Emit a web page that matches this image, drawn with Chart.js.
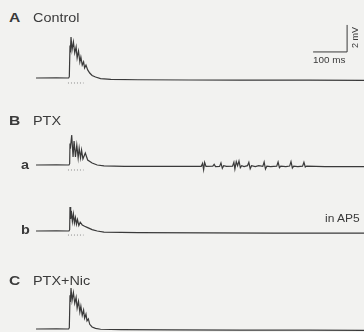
<!DOCTYPE html>
<html><head><meta charset="utf-8">
<script src="https://cdn.jsdelivr.net/npm/chart.js@4"></script>
<style>
html,body{margin:0;padding:0;background:#f2f2f0;}
#wrap{position:relative;width:364px;height:332px;overflow:hidden;background:#f2f2f0;font-family:"Liberation Sans",Arial,sans-serif;color:#3a3a3a;}
canvas{position:absolute;}
.t{position:absolute;white-space:nowrap;transform-origin:0 0;line-height:1;}
</style></head><body>
<div id="wrap">
<canvas id="cA" width="328" height="80" style="left:36px;top:20px"></canvas>
<canvas id="cBa" width="328" height="55" style="left:36px;top:125px"></canvas>
<canvas id="cBb" width="328" height="45" style="left:36px;top:195px"></canvas>
<canvas id="cC" width="328" height="57" style="left:36px;top:275px"></canvas>
<div class="t" style="left:9px;top:11px;font-size:13px;font-weight:bold;transform:scaleX(1.2)">A</div>
<div class="t" style="left:33px;top:12px;font-size:12px;transform:scaleX(1.2)">Control</div>
<div class="t" style="left:9px;top:114px;font-size:13px;font-weight:bold;transform:scaleX(1.2)">B</div>
<div class="t" style="left:33px;top:115px;font-size:12px;transform:scaleX(1.2)">PTX</div>
<div class="t" style="left:21px;top:159px;font-size:12px;font-weight:bold;transform:scaleX(1.2)">a</div>
<div class="t" style="left:21px;top:224px;font-size:12px;font-weight:bold;transform:scaleX(1.2)">b</div>
<div class="t" style="left:325px;top:214px;font-size:10px;transform:scaleX(1.2)">in AP5</div>
<div class="t" style="left:9px;top:274px;font-size:13px;font-weight:bold;transform:scaleX(1.2)">C</div>
<div class="t" style="left:33px;top:275px;font-size:12px;transform:scaleX(1.2)">PTX+Nic</div>
<div class="t" style="left:313px;top:56px;font-size:9px;transform:scaleX(1.1)">100 ms</div>
<div class="t" style="left:351px;top:48px;font-size:9px;transform:rotate(-90deg)">2 mV</div>
</div>
<script>
// time in ms, potential in mV relative to each trace's resting level
const traceATime = [0, 60, 96, 98, 100, 101, 103, 106, 110, 114, 118, 121, 125, 129, 132, 136, 140, 143, 147, 152, 158, 165, 175, 190, 220, 300, 450, 600, 800, 965];
const traceAmV   = [0, 0.02, 0, 0.1, 2.4, 1.9, 3.04, 2.07, 2.67, 1.85, 2.3, 1.48, 2.0, 1.19, 1.56, 0.96, 1.19, 0.74, 0.96, 0.6, 0.37, 0.19, 0.07, -0.04, -0.1, -0.13, -0.15, -0.16, -0.15, -0.17];

const traceBaTime = [0, 60, 97, 99, 100, 101, 105, 109, 112, 116, 120, 124, 127, 131, 134, 138, 145, 152, 165, 180, 200, 260, 350, 486, 490, 493, 496, 500, 520, 524, 528, 540, 544, 548, 552, 560, 578, 582, 585, 589, 593, 597, 601, 605, 612, 622, 626, 630, 634, 645, 655, 667, 671, 675, 679, 690, 708, 712, 716, 720, 735, 746, 750, 754, 758, 770, 784, 788, 792, 796, 850, 965];
const traceBamV   = [0, 0.02, 0, 0.1, 1.6, 1.2, 2.22, 0.59, 1.78, 0.59, 1.48, 0.52, 1.26, 0.52, 1.11, 0.44, 0.89, 0.37, 0.15, 0, -0.07, -0.1, -0.1, -0.1, 0.12, -0.35, 0.2, -0.1, -0.08, 0.05, -0.12, -0.1, 0.15, -0.25, -0.05, -0.1, -0.08, 0.2, -0.3, 0.25, -0.05, 0.3, -0.2, -0.05, -0.12, -0.05, 0.2, -0.28, -0.05, -0.12, -0.05, -0.1, 0.22, -0.3, -0.08, -0.12, -0.08, 0.22, -0.2, -0.08, -0.12, -0.08, 0.25, -0.22, -0.08, -0.12, -0.08, 0.2, -0.15, -0.08, -0.12, -0.12];

const traceBbTime = [0, 60, 97, 99, 100, 102, 104, 107, 110, 113, 116, 119, 122, 126, 130, 136, 143, 152, 165, 180, 200, 300, 500, 700, 965];
const traceBbmV   = [0, 0.02, 0, 0.1, 1.78, 0.9, 1.5, 0.7, 1.25, 0.6, 1.0, 0.5, 0.85, 0.4, 0.65, 0.45, 0.35, 0.25, 0.1, 0, -0.08, -0.12, -0.14, -0.15, -0.15];

const traceCTime = [0, 60, 96, 98, 100, 101, 103, 106, 110, 114, 118, 121, 125, 129, 132, 136, 140, 143, 147, 150, 154, 158, 165, 175, 190, 250, 400, 600, 800, 965];
const traceCmV   = [0, 0.02, 0, 0.1, 2.5, 2.0, 3.04, 2.1, 2.7, 1.9, 2.35, 1.55, 2.05, 1.25, 1.7, 1.0, 1.4, 0.8, 1.1, 0.6, 0.75, 0.35, 0.15, 0.05, -0.02, -0.05, -0.07, -0.08, -0.08, -0.1];

// stimulus markers (dotted) under bursts
const stimTime = [94, 140];
const stimAmV = [-0.37, -0.37];
const stimBamV = [-0.37, -0.37];
const stimBbmV = [-0.3, -0.3];

// scale bar: 100 ms x 2 mV
const scaleBarTime = [815, 915, 915];
const scaleBarmV   = [1.93, 1.93, 3.93];

const PX_PER_MV = 13.5;
const PX_PER_MS = 0.34;
const zip = (xs, ys) => xs.map((x, i) => ({x: x, y: ys[i]}));

function line(xs, ys, extra) {
  return Object.assign({data: zip(xs, ys), borderColor: '#3a3a3a', borderWidth: 1.2, pointRadius: 0, tension: 0, clip: false, fill: false}, extra || {});
}
function dotted(xs, ys) {
  return line(xs, ys, {borderColor: '#8a8a8a', borderWidth: 1, borderDash: [1, 2]});
}
function makeChart(id, top, height, basePx, datasets) {
  const max = (basePx - top) / PX_PER_MV;
  const min = max - height / PX_PER_MV;
  new Chart(document.getElementById(id), {
    type: 'line',
    data: {datasets: datasets},
    options: {
      responsive: false, animation: false, devicePixelRatio: 1, events: [],
      layout: {padding: 0},
      plugins: {legend: {display: false}, tooltip: {enabled: false}},
      scales: {
        x: {type: 'linear', display: false, min: 0, max: 328 / PX_PER_MS},
        y: {type: 'linear', display: false, min: min, max: max}
      }
    }
  });
}
makeChart('cA', 20, 80, 78, [line(traceATime, traceAmV), dotted(stimTime, stimAmV), line(scaleBarTime, scaleBarmV, {borderWidth: 1})]);
makeChart('cBa', 125, 55, 165, [line(traceBaTime, traceBamV), dotted(stimTime, stimBamV)]);
makeChart('cBb', 195, 45, 231, [line(traceBbTime, traceBbmV), dotted(stimTime, stimBbmV)]);
makeChart('cC', 275, 57, 329, [line(traceCTime, traceCmV)]);
</script>
</body></html>
